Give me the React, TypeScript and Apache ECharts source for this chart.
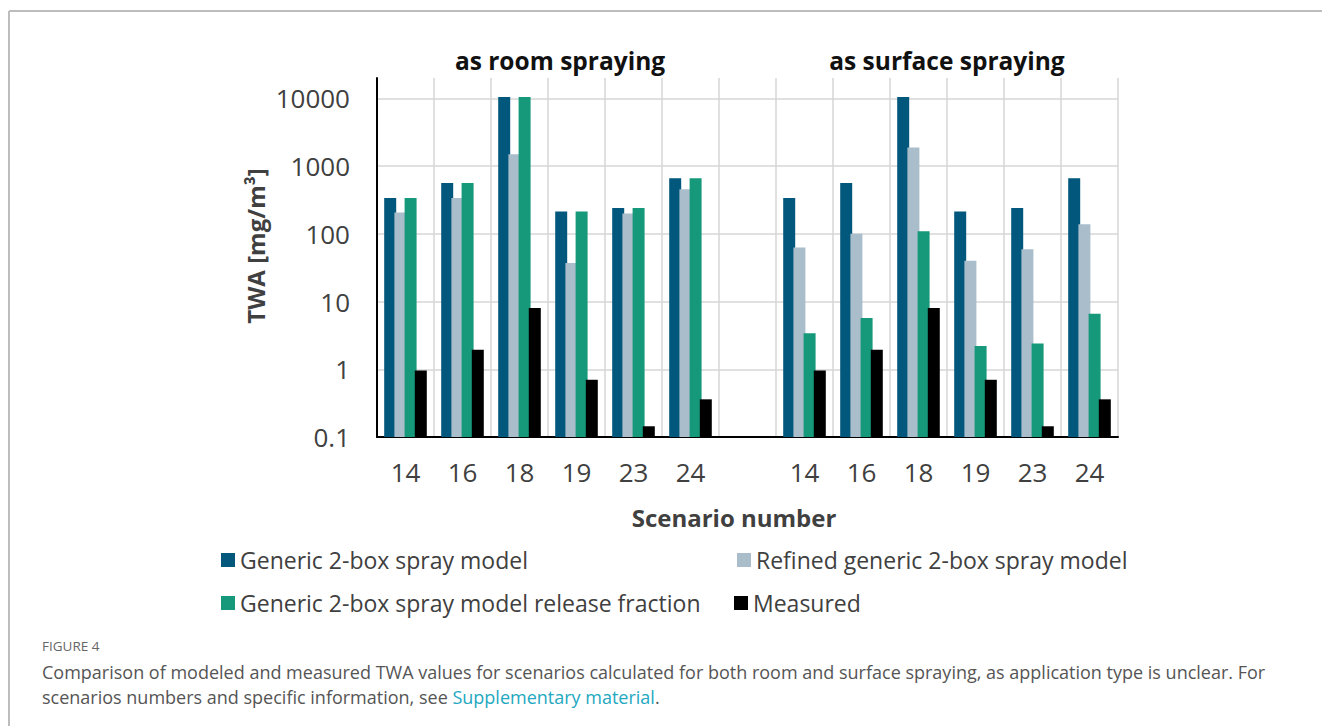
import React, { useEffect, useRef } from "react";
import * as echarts from "echarts";

const categories = ["14", "16", "18", "19", "23", "24", "", "14", "16", "18", "19", "23", "24"];
const genericModel = [339, 565, 10500, 213, 241, 663, null, 339, 565, 10500, 213, 241, 663];
const refinedModel = [206, 339, 1500, 37, 200, 456, null, 63, 100, 1880, 40, 59, 139];
const releaseFraction = [339, 565, 10500, 213, 241, 663, null, 3.4, 5.7, 109, 2.2, 2.4, 6.6];
const measured = [0.96, 1.95, 8.0, 0.7, 0.144, 0.36, null, 0.96, 1.95, 8.0, 0.7, 0.144, 0.36];
const yTickLabels = ["0.1", "1", "10", "100", "1000", "10000"];

const seriesNames = [
  "Generic 2-box spray model",
  "Refined generic 2-box spray model",
  "Generic 2-box spray model release fraction",
  "Measured",
];
const colors = ["#02577c", "#a9bdcb", "#16997a", "#000000"];

const FONT = "'Open Sans', 'Noto Sans', sans-serif";

export default function App() {
  const ref = useRef<HTMLDivElement>(null);
  useEffect(() => {
    if (!ref.current) return;
    const chart = echarts.init(ref.current, null, { renderer: "svg" });
    const dataSets = [genericModel, refinedModel, releaseFraction, measured];
    const legendPos = [
      { left: 221, top: 548 },
      { left: 737, top: 548 },
      { left: 221, top: 591 },
      { left: 734, top: 591 },
    ];
    const option: any = {
      animation: false,
      backgroundColor: "#ffffff",
      grid: { left: 377, right: 204, top: 78, bottom: 289, containLabel: false },
      xAxis: {
        type: "category",
        data: categories,
        axisLine: { onZero: false, lineStyle: { color: "#000", width: 2 } },
        axisTick: { show: false },
        axisLabel: { color: "#404040", fontSize: 26, fontFamily: FONT, margin: 22, interval: 0 },
        splitLine: { show: true, interval: 0, lineStyle: { color: "#d6d6d6", width: 1.5 } },
      },
      yAxis: {
        type: "log",
        logBase: 10,
        min: 0.1,
        max: 20000,
        startValue: 0.1,
        axisLine: { show: true, lineStyle: { color: "#000", width: 2 } },
        axisTick: { show: false },
        axisLabel: {
          color: "#404040",
          fontSize: 26,
          fontFamily: FONT,
          margin: 27,
          showMaxLabel: false,
          formatter: (v: number) => {
            const i = Math.round(Math.log10(v)) + 1;
            return yTickLabels[i] ?? "";
          },
        },
        splitLine: { show: true, showMaxLine: false, lineStyle: { color: "#d6d6d6", width: 1.5 } },
      },
      legend: seriesNames.map((n, i) => ({
        ...legendPos[i],
        data: [n],
        icon: "rect",
        itemWidth: 14,
        itemHeight: 14,
        selectedMode: false,
        padding: 0,
        textStyle: { fontSize: 23, color: "#404040", fontFamily: FONT, lineHeight: 24 },
      })),
      series: seriesNames.map((n, i) => ({
        name: n,
        type: "bar",
        data: dataSets[i],
        barWidth: 12,
        barGap: "-15%",
        itemStyle: { color: colors[i] },
      })),
      graphic: [
        { type: "line", shape: { x1: 9, y1: 11, x2: 1322, y2: 11 }, style: { stroke: "#bdbdbd", lineWidth: 2 } },
        { type: "line", shape: { x1: 9, y1: 11, x2: 9, y2: 726 }, style: { stroke: "#bdbdbd", lineWidth: 2 } },
        {
          type: "text", x: 560, y: 60,
          style: { text: "as room spraying", fill: "#111", font: `bold 24.5px ${FONT}`, textAlign: "center", textVerticalAlign: "middle", align: "center", verticalAlign: "middle" },
        },
        {
          type: "text", x: 947, y: 60,
          style: { text: "as surface spraying", fill: "#111", font: `bold 24.5px ${FONT}`, textAlign: "center", textVerticalAlign: "middle", align: "center", verticalAlign: "middle" },
        },
        {
          type: "text", x: 734, y: 517,
          style: { text: "Scenario number", fill: "#404040", font: `bold 24px ${FONT}`, textAlign: "center", textVerticalAlign: "middle", align: "center", verticalAlign: "middle" },
        },
        {
          type: "text", x: 255, y: 246, rotation: Math.PI / 2,
          style: { text: "TWA [mg/m³]", fill: "#404040", font: `bold 24px ${FONT}`, textAlign: "center", textVerticalAlign: "middle", align: "center", verticalAlign: "middle" },
        },
        {
          type: "text", x: 42, y: 646,
          style: { text: "FIGURE 4", fill: "#666", font: `13.5px ${FONT}`, textVerticalAlign: "middle", verticalAlign: "middle" },
        },
        {
          type: "text", x: 42, y: 672,
          style: {
            text: "Comparison of modeled and measured TWA values for scenarios calculated for both room and surface spraying, as application type is unclear. For",
            fill: "#555", font: `18px ${FONT}`, textVerticalAlign: "middle", verticalAlign: "middle",
          },
        },
        {
          type: "text", x: 42, y: 697,
          style: {
            text: "{a|scenarios numbers and specific information, see }{b|Supplementary material}{a|.}",
            verticalAlign: "middle", textVerticalAlign: "middle",
            rich: {
              a: { fill: "#555", fontSize: 18, fontFamily: FONT },
              b: { fill: "#23a8bf", fontSize: 18, fontFamily: FONT },
            },
          },
        },
      ],
    };
    chart.setOption(option);
    return () => chart.dispose();
  }, []);
  return <div ref={ref} style={{ position: "fixed", left: 0, top: 0, width: 1322, height: 726 }} />;
}
